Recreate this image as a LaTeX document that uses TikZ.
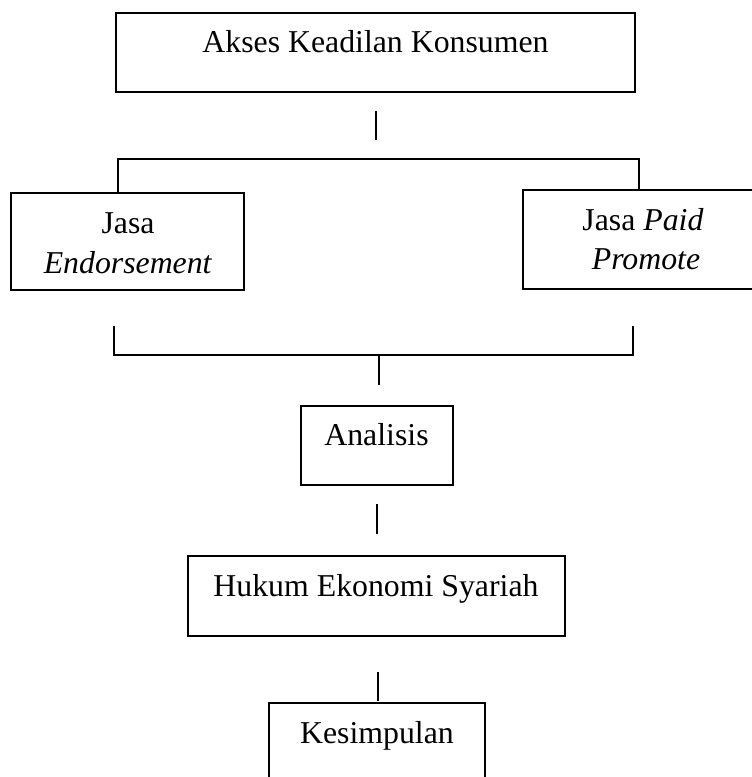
\documentclass[tikz,border=0pt]{standalone}
\usepackage{fontspec}
\setmainfont{Liberation Serif}
\begin{document}
\begin{tikzpicture}[x=1pt,y=-1pt,line width=1.2pt,
  boxnode/.style={draw,rectangle,inner sep=0pt,outer sep=0pt},
  txt/.style={anchor=base,inner sep=0pt,font=\fontsize{31.8}{40}\selectfont},
  conn/.style={draw,line width=1.2pt}]
\useasboundingbox (0,0) rectangle (752,777);
\clip (0,0) rectangle (752,777);
% boxes
\node[boxnode,minimum width=519pt,minimum height=79pt] (akses) at (375.5,52.5) {};
\node[boxnode,minimum width=233pt,minimum height=97pt] (jasaE) at (127.5,241.5) {};
\node[boxnode,minimum width=243pt,minimum height=99pt] (jasaP) at (644.5,239.5) {};
\node[boxnode,minimum width=152pt,minimum height=79pt] (analisis) at (377,445.5) {};
\node[boxnode,minimum width=377pt,minimum height=80pt] (hukum) at (376.5,596) {};
\node[boxnode,minimum width=216pt,minimum height=80pt] (kesimpulan) at (377,743) {};
% texts
\node[txt] (t1) at (375.5,52) {Akses Keadilan Konsumen};
\node[txt] (t2a) at (128,233) {Jasa};
\node[txt] (t2b) at (128,273) {\textit{Endorsement}};
\node[txt] (t3a) at (643,230) {Jasa \textit{Paid}};
\node[txt] (t3b) at (646,269) {\textit{Promote}};
\node[txt] (t4) at (376.5,445) {Analisis};
\node[txt] (t5) at (376,596) {Hukum Ekonomi Syariah};
\node[txt] (t6) at (377,743) {Kesimpulan};
% connector coordinates
\coordinate (s1a) at (376,111);
\coordinate (s1b) at (376,140);
\coordinate (b1l) at (118,192);
\coordinate (b1lt) at (118,159);
\coordinate (b1rt) at (639,159);
\coordinate (b1r) at (639,189);
\coordinate (b2l) at (114,326);
\coordinate (b2lb) at (114,355);
\coordinate (b2rb) at (633,355);
\coordinate (b2r) at (633,326);
\coordinate (s2a) at (379,355);
\coordinate (s2b) at (379,385);
\coordinate (s3a) at (377,504);
\coordinate (s3b) at (377,534);
\coordinate (s4a) at (378,672);
\coordinate (s4b) at (378,701);
% connectors
\draw[conn] (s1a) -- (s1b);
\draw[conn] (b1l) -- (b1lt) -- (b1rt) -- (b1r);
\draw[conn] (b2l) -- (b2lb) -- (b2rb) -- (b2r);
\draw[conn] (s2a) -- (s2b);
\draw[conn] (s3a) -- (s3b);
\draw[conn] (s4a) -- (s4b);
\end{tikzpicture}
\end{document}
